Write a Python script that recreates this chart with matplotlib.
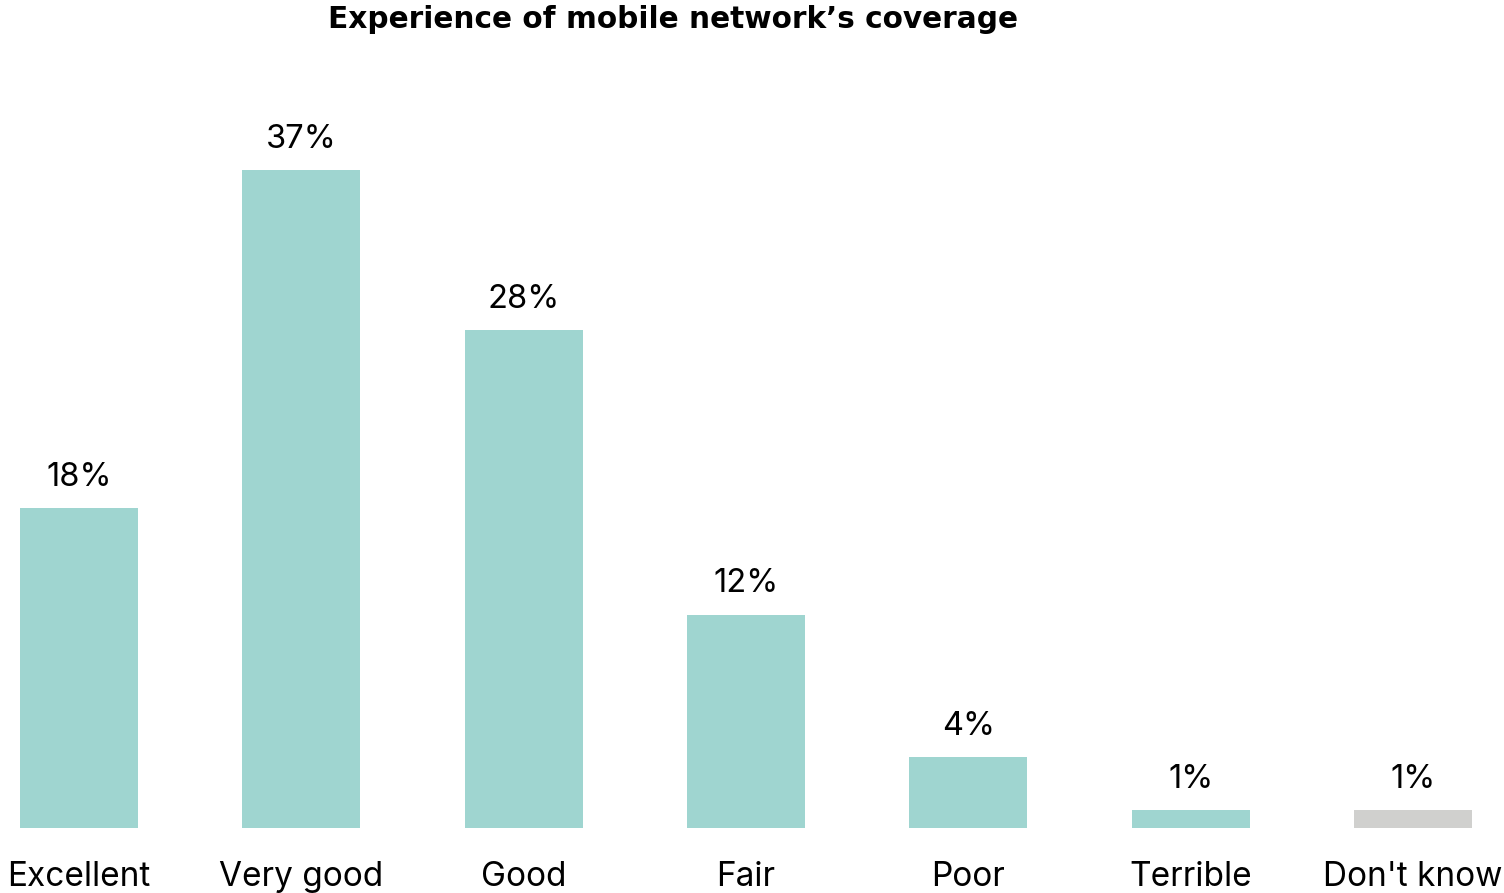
import matplotlib
matplotlib.use("Agg")
import matplotlib.pyplot as plt

categories = ["Excellent", "Very good", "Good", "Fair", "Poor", "Terrible", "Don't know"]
values = [18, 37, 28, 12, 4, 1, 1]
value_labels = ["18%", "37%", "28%", "12%", "4%", "1%", "1%"]
bar_colors = ["#9FD5D0"] * 6 + ["#D0D0CE"]
title = "Experience of mobile network\u2019s coverage"

plt.rcParams["font.family"] = ["Inter", "DejaVu Sans"]

W, H = 1504, 893
fig = plt.figure(figsize=(W / 100, H / 100), dpi=100)

baseline_px = 828
px_per_unit = (828 - 170) / 37
ax = fig.add_axes([0, (H - baseline_px) / H, 1, baseline_px / H])

x = list(range(len(categories)))
ax.bar(x, values, width=0.53, color=bar_colors)

step = (1413 - 79) / 6
ax.set_xlim(-79 / step, 6 + (W - 1413) / step)
ax.set_ylim(0, baseline_px / px_per_unit)

for xi, v, lab in zip(x, values, value_labels):
    ax.annotate(lab, (xi, v), xytext=(0, 11), textcoords="offset points",
                ha="center", va="bottom", fontsize=23.5, color="#000000")

ax.set_xticks(x)
ax.set_xticklabels(categories, fontsize=24)
ax.tick_params(axis="x", length=0, pad=24)
ax.set_yticks([])
for s in ax.spines.values():
    s.set_visible(False)

fig.text(673 / W, 1 - 19 / H, title, ha="center", va="center",
         fontsize=21.3, fontweight="bold", family=["DejaVu Sans"])

fig.savefig("out.png", dpi=100)
